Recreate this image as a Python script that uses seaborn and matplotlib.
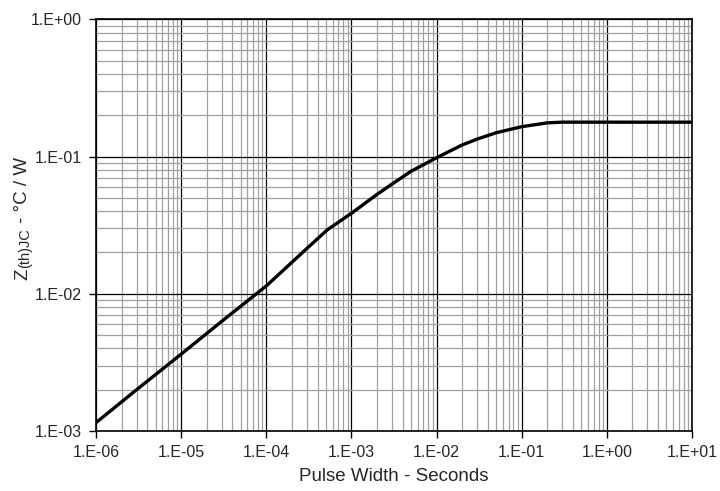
import numpy as np
import pandas as pd
import seaborn as sns
import matplotlib.pyplot as plt
from matplotlib.ticker import LogLocator, FuncFormatter, NullFormatter

# values
pulse_width = [1e-6, 3e-6, 1e-5, 3e-5, 1e-4, 3e-4, 5.2e-4, 1e-3, 2e-3, 3e-3,
               5e-3, 1e-2, 2e-2, 3e-2, 5e-2, 1e-1, 2e-1, 3e-1, 1e0, 1e1]
z_thjc = [0.00115, 0.0020, 0.00363, 0.0063, 0.0114, 0.0214, 0.0292, 0.0386,
          0.053, 0.063, 0.078, 0.098, 0.1215, 0.134, 0.149, 0.165, 0.176,
          0.178, 0.178, 0.178]

df = pd.DataFrame({'t': pulse_width, 'z': z_thjc})

sns.set_style('white')
plt.rcParams['font.family'] = ['Liberation Sans', 'DejaVu Sans']

W, H = 720, 491
fig = plt.figure(figsize=(7.2, 4.91), dpi=100)
ax = fig.add_axes([96/W, 1 - 431/H, (692-96)/W, (431-19.3)/H])

sns.lineplot(data=df, x='t', y='z', ax=ax, color='black', linewidth=2.4)

ax.set_xscale('log')
ax.set_yscale('log')
ax.set_xlim(1e-6, 1e1)
ax.set_ylim(1e-3, 1e0)

fmt = FuncFormatter(lambda v, p: '1.E%+03d' % round(np.log10(v)))
for axis in (ax.xaxis, ax.yaxis):
    axis.set_major_locator(LogLocator(base=10, numticks=20))
    axis.set_minor_locator(LogLocator(base=10, subs=np.arange(2, 10), numticks=20))
    axis.set_major_formatter(fmt)
    axis.set_minor_formatter(NullFormatter())

ax.grid(which='minor', color='#a0a0a0', linewidth=0.9)
ax.grid(which='major', color='black', linewidth=0.9)
ax.set_axisbelow(True)
ax.tick_params(which='major', direction='out', length=5, width=1, color='black',
               labelsize=11.5, left=True, bottom=True, pad=5)
ax.tick_params(which='minor', length=0)

for s in ax.spines.values():
    s.set_color('black')
    s.set_linewidth(1.2)

ax.set_xlabel('Pulse Width - Seconds', fontsize=13.5, labelpad=6)
ax.set_ylabel('')

# y label built from pieces so the subscript stays large, like the reference
fig.canvas.draw()
r = fig.canvas.get_renderer()
x_base = 27
y_px = 280
pieces = [('Z', 13.5, 0, 0), ('(th)JC', 10.5, 2, 0), ('- °C / W', 13.5, 0, 4)]
for txt, size, shift, gap in pieces:
    y_px -= gap
    t = fig.text((x_base + shift) / W, 1 - y_px / H, txt, fontsize=size,
                 rotation=90, rotation_mode='anchor', ha='left', va='baseline')
    y_px -= t.get_window_extent(r).height + 1

fig.savefig('out.png', dpi=100)
